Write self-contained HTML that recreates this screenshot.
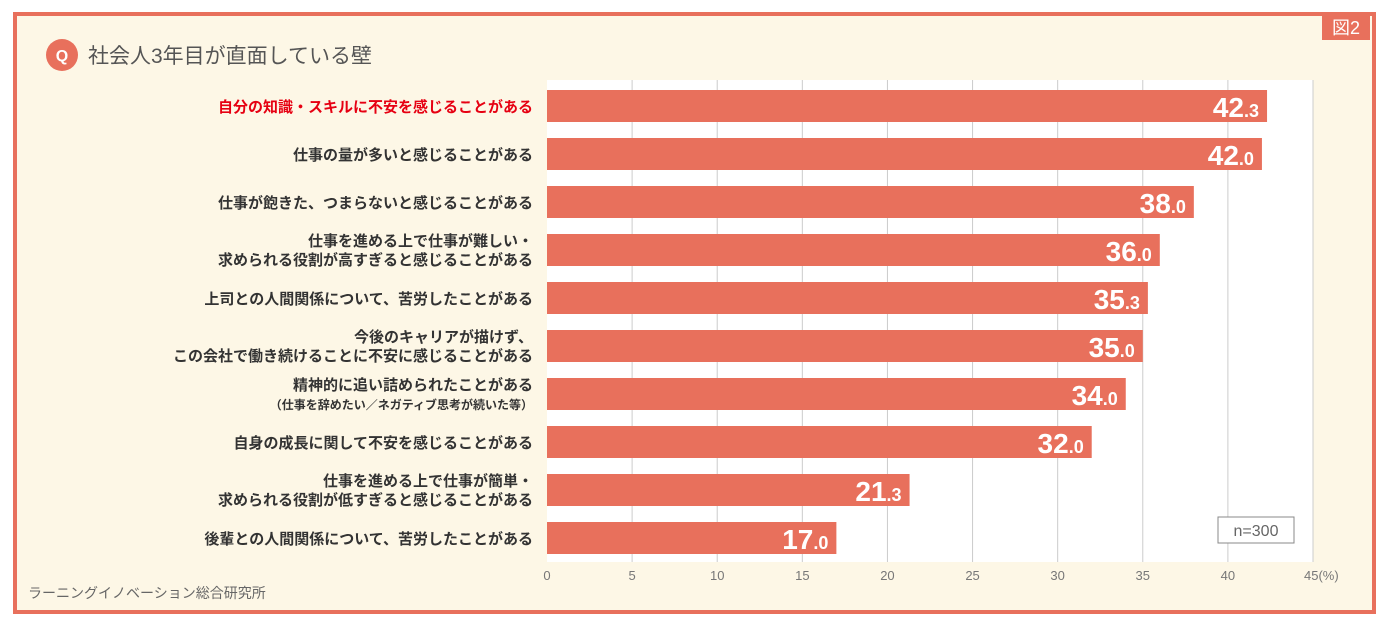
<!DOCTYPE html>
<html><head><meta charset="utf-8">
<style>
body{margin:0;width:1389px;height:627px;background:#fff;overflow:hidden;font-family:"Liberation Sans","Noto Sans CJK JP",sans-serif}
#frame{position:absolute;left:13px;top:12px;width:1355px;height:594px;border:4px solid #e8705c;background:#fdf7e6}
</style></head><body>
<div id="frame"></div>
<svg id="chart" width="1389" height="627" style="position:absolute;left:0;top:0" font-family="Liberation Sans, Noto Sans CJK JP, sans-serif">
<rect x="1322" y="14" width="48" height="26" fill="#e8705c"/>
<text x="1346" y="34" fill="#fff" font-size="18" text-anchor="middle">図2</text>
<circle cx="62" cy="55" r="16" fill="#e8705c"/>
<text x="62" y="61" fill="#fff" font-size="16" font-weight="bold" text-anchor="middle">Q</text>
<text x="88" y="63" fill="#555" font-size="21">社会人3年目が直面している壁</text>
<rect x="547" y="80" width="766" height="482" fill="#fff"/>
<g id="grid"></g><g id="bars"></g><g id="labels"></g><g id="ticks"></g>
<rect x="1218" y="517" width="76" height="26" fill="#fff" stroke="#888"/>
<text x="1256" y="536" fill="#666" font-size="16" text-anchor="middle">n=300</text>
<text x="28" y="598" fill="#666" font-size="14">ラーニングイノベーション総合研究所</text>
</svg>
<script>
const categories=[["自分の知識・スキルに不安を感じることがある"],["仕事の量が多いと感じることがある"],["仕事が飽きた、つまらないと感じることがある"],["仕事を進める上で仕事が難しい・","求められる役割が高すぎると感じることがある"],["上司との人間関係について、苦労したことがある"],["今後のキャリアが描けず、","この会社で働き続けることに不安に感じることがある"],["精神的に追い詰められたことがある","（仕事を辞めたい／ネガティブ思考が続いた等）"],["自身の成長に関して不安を感じることがある"],["仕事を進める上で仕事が簡単・","求められる役割が低すぎると感じることがある"],["後輩との人間関係について、苦労したことがある"]];
const values=[42.3,42.0,38.0,36.0,35.3,35.0,34.0,32.0,21.3,17.0];
const ticks=[0,5,10,15,20,25,30,35,40,45];
const NS="http://www.w3.org/2000/svg";
const x0=547,x1=1313,xmax=45,top0=80,step=48;
const xs=v=>x0+(x1-x0)*v/xmax;
const yc=i=>top0+26+i*step;
function mk(t,a,p){const e=document.createElementNS(NS,t);for(const k in a)e.setAttribute(k,a[k]);document.getElementById(p).appendChild(e);return e;}
ticks.forEach(t=>{
 if(t>0){const l=mk('line',{x1:xs(t),x2:xs(t),y1:80,y2:562,stroke:'#ccc'},'grid');
 
 }
 const tx=mk('text',{x:xs(t),y:580,'font-size':13,fill:'#777','text-anchor':t==45?'start':'middle'},'ticks');
 if(t==45)tx.setAttribute('x',xs(t)-9);
 tx.textContent=t==45?'45(%)':t;
 
 
});
values.forEach((v,i)=>{
 const r=mk('rect',{x:x0,y:yc(i)-16,width:xs(v)-x0,height:32,fill:'#e8705c'},'bars');
 
 
 const s=v.toFixed(1).split('.');
 const t=mk('text',{x:xs(v)-8,y:yc(i)+11,'text-anchor':'end',fill:'#fff','font-weight':'bold','font-size':28},'bars');
 t.innerHTML=s[0]+'<tspan font-size="18">.'+s[1]+'</tspan>';
 
 
 const lines=categories[i];
 lines.forEach((ln,j)=>{
  const small=ln.startsWith('（');
  const dy=lines.length==1?6:(j==0?-4:15);
  const c=mk('text',{x:533,y:yc(i)+dy,'text-anchor':'end','font-weight':'bold','font-size':small?12:15,fill:i==0?'#e60012':'#333'},'labels');
  c.textContent=ln;
  
  
 });
});
</script>
</body></html>
